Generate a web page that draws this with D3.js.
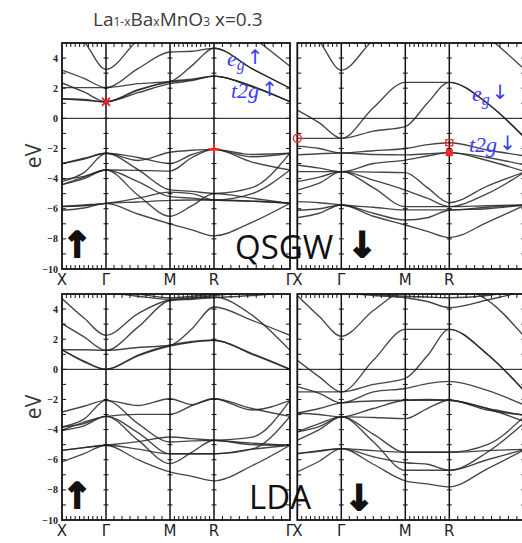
<!DOCTYPE html>
<html>
<head>
<meta charset="utf-8">
<script src="https://cdn.jsdelivr.net/npm/d3@7"></script>
<style>
  body { margin: 0; background: #fff; }
  svg { display: block; }
</style>
</head>
<body>
<svg id="chart" width="522" height="543"></svg>
<script>
// k path X-Γ-M-R-Γ, band energies (eV) read at each half segment
var kPath = [0, 0.5, 1, 1.5, 2, 2.5, 3, 3.5, 4]
var kLabels = ["X", "Γ", "M", "R", "Γ"]
var eTicks = [4, 2, 0, -2, -4, -6, -8, -10]

var qsgwUp = [
  [6.5, 5.1, 3.25, 5.2, 6.5, 7.0, 7.0, 5.4, 3.45],
  [3.2, 2.65, 2.04, 3.3, 4.4, 4.45, 4.65, 3.3, 2.0],
  [2.04, 2.04, 2.04, 2.3, 2.45, 3.5, 4.65, 3.3, 2.0],
  [2.35, 1.75, 1.1, 1.9, 2.4, 2.55, 2.8, 2.1, 1.1],
  [1.3, 1.25, 1.1, 1.85, 2.45, 2.6, 2.8, 2.1, 1.1],
  [1.3, 1.2, 1.1, 1.7, 2.3, 2.5, 2.8, 2.15, 1.1],
  [-3.0, -2.65, -2.32, -2.8, -2.25, -2.12, -2.06, -2.55, -2.32],
  [-4.2, -3.6, -2.32, -3.4, -4.75, -4.85, -4.98, -4.6, -2.32],
  [-3.0, -2.7, -2.32, -2.6, -3.0, -2.4, -2.06, -2.4, -2.32],
  [-4.05, -3.85, -3.43, -3.45, -3.5, -2.6, -2.06, -2.9, -3.43],
  [-4.4, -4.0, -3.43, -4.2, -5.2, -5.3, -5.42, -5.0, -3.43],
  [-4.4, -3.9, -3.43, -5.1, -6.5, -5.8, -5.0, -5.3, -5.64],
  [-5.85, -5.8, -5.64, -5.55, -5.45, -5.42, -5.42, -5.5, -5.64],
  [-5.85, -5.75, -5.64, -5.3, -4.9, -5.0, -5.42, -5.5, -5.64],
  [-6.1, -5.95, -5.64, -6.35, -7.0, -7.4, -7.8, -6.9, -5.64]
]

var qsgwDn = [
  [6.5, 5.1, 3.2, 5.2, 6.5, 7.0, 7.0, 5.4, 3.2],
  [0.55, -0.3, -1.33, 0.7, 2.39, 2.39, 2.39, 1.0, -1.33],
  [-1.33, -1.33, -1.33, -0.85, -0.55, 1.0, 2.39, 1.0, -1.33],
  [-1.84, -2.0, -2.3, -2.15, -2.0, -1.75, -1.62, -2.1, -2.5],
  [-2.43, -2.35, -2.3, -2.4, -2.43, -2.35, -2.28, -2.6, -3.1],
  [-3.1, -3.3, -3.54, -3.0, -2.77, -2.5, -2.28, -2.8, -3.54],
  [-3.54, -3.54, -3.54, -3.57, -3.6, -4.6, -5.6, -4.5, -3.54],
  [-4.2, -3.9, -3.54, -4.1, -4.76, -5.3, -5.86, -5.0, -3.54],
  [-4.76, -4.3, -3.54, -4.6, -5.86, -5.86, -5.86, -5.8, -5.75],
  [-5.53, -5.6, -5.75, -5.9, -6.08, -6.08, -6.08, -5.9, -5.75],
  [-6.1, -6.0, -5.75, -6.3, -6.75, -6.6, -6.1, -6.0, -5.75],
  [-6.6, -6.3, -5.75, -6.5, -7.08, -7.5, -7.92, -6.9, -5.75]
]

var ldaUp = [
  [4.7, 3.4, 2.26, 3.7, 4.6, 4.7, 4.8, 3.6, 1.26],
  [3.03, 2.15, 1.26, 2.8, 4.55, 4.65, 4.75, 4.9, 5.1],
  [1.3, 1.3, 1.26, 1.45, 1.6, 2.7, 4.14, 3.25, 2.26],
  [1.3, 0.5, 0.0, 0.9, 1.55, 1.8, 1.93, 1.0, 0.0],
  [1.3, 0.55, 0.0, 0.95, 1.6, 1.85, 1.93, 1.05, 0.0],
  [5.3, 5.2, 5.1, 4.85, 4.65, 4.75, 4.9, 5.1, 5.2],
  [5.5, 5.4, 5.3, 5.0, 4.75, 4.85, 5.0, 5.2, 5.3],
  [-2.83, -2.45, -2.06, -2.4, -1.95, -2.35, -1.95, -2.7, -2.06],
  [-3.83, -3.3, -2.06, -3.6, -4.82, -4.75, -4.71, -4.5, -2.06],
  [-4.05, -3.5, -3.12, -2.99, -2.99, -2.4, -1.95, -2.6, -3.12],
  [-3.83, -3.6, -3.12, -4.2, -5.6, -5.6, -5.6, -5.3, -3.12],
  [-4.05, -3.75, -3.12, -4.7, -6.26, -5.5, -4.71, -5.0, -5.04],
  [-5.38, -5.2, -5.04, -4.8, -4.49, -4.6, -4.71, -4.9, -5.04],
  [-5.38, -5.2, -5.04, -5.3, -5.6, -5.6, -5.6, -5.3, -5.04],
  [-6.15, -5.6, -5.04, -6.0, -6.81, -7.1, -7.4, -6.4, -5.04]
]

var ldaDn = [
  [4.9, 3.5, 2.2, 3.9, 5.3, 5.5, 5.5, 4.6, 2.1],
  [0.6, -0.5, -1.5, 0.6, 2.65, 2.65, 2.65, 1.0, -1.5],
  [-1.5, -1.5, -1.5, -1.0, -0.6, 0.9, 2.65, 1.0, -1.5],
  [5.5, 5.3, 5.1, 4.9, 4.75, 4.5, 4.1, 4.6, 5.2],
  [5.6, 5.5, 5.3, 5.0, 4.85, 4.8, 4.75, 4.9, 5.3],
  [-1.15, -1.6, -2.23, -1.5, -1.27, -0.95, -0.8, -1.4, -2.4],
  [-2.9, -2.6, -2.23, -2.1, -2.05, -2.05, -2.05, -2.6, -3.05],
  [-2.9, -3.0, -3.16, -2.6, -2.05, -2.0, -2.05, -2.6, -3.5],
  [-4.15, -3.6, -3.16, -3.2, -3.27, -2.6, -2.05, -2.7, -3.05],
  [-4.7, -4.0, -3.16, -4.3, -5.5, -5.5, -5.5, -5.0, -3.05],
  [-4.15, -3.8, -3.16, -4.8, -6.7, -6.7, -6.7, -5.5, -3.5],
  [-5.6, -5.4, -5.26, -5.4, -5.5, -5.5, -5.5, -5.4, -5.3],
  [-5.6, -5.45, -5.26, -5.8, -6.2, -6.3, -6.7, -6.0, -5.3],
  [-6.8, -6.1, -5.26, -6.3, -7.4, -7.6, -7.8, -6.6, -5.3]
]

// red markers on the QSGW panels: [panel, k, E, shape]
var markers = [
  [0, 1, 1.1, "x"],
  [0, 3, -2.06, "plus"],
  [1, 0, -1.33, "circle"],
  [1, 3, -1.62, "square"],
  [1, 3, -2.28, "filled"]
]

var svg = d3.select("#chart")
var W = 228, H = 226
var kOffsets = [0, 44, 108, 152, 228]
var kDivs = [10, 8, 10, 9]

var panels = [
  { bands: qsgwUp, x0: 62, y0: 43, left: true },
  { bands: qsgwDn, x0: 297.3, y0: 43, left: false },
  { bands: ldaUp, x0: 62, y0: 294, left: true },
  { bands: ldaDn, x0: 297.3, y0: 294, left: false }
]

panels.forEach(function (p, pi) {
  p.x = d3.scaleLinear().domain([0, 1, 2, 3, 4])
    .range(kOffsets.map(function (o) { return p.x0 + o }))
  p.y = d3.scaleLinear().domain([-10, 5]).range([p.y0 + H, p.y0])

  var g = svg.append("g")
  var clipId = "clip" + pi
  svg.append("clipPath").attr("id", clipId)
    .append("rect").attr("x", p.x0).attr("y", p.y0).attr("width", W).attr("height", H)

  // bands
  var line = d3.line()
    .x(function (d) { return p.x(d[0]) })
    .y(function (d) { return p.y(d[1]) })
    .curve(d3.curveMonotoneX)

  g.append("g").attr("clip-path", "url(#" + clipId + ")")
    .selectAll("path")
    .data(p.bands)
    .enter().append("path")
    .attr("d", function (b) { return line(kPath.map(function (k, i) { return [k, b[i]] })) })
    .attr("fill", "none")
    .attr("stroke", "#262626")
    .attr("stroke-width", 1.35)
    .attr("stroke-opacity", 0.85)

  // Fermi level
  g.append("line")
    .attr("x1", p.x0).attr("x2", p.x0 + W)
    .attr("y1", p.y(0)).attr("y2", p.y(0))
    .attr("stroke", "#111").attr("stroke-width", 1)

  // symmetry lines
  g.selectAll(".sym").data([1, 2, 3]).enter().append("line")
    .attr("x1", p.x).attr("x2", p.x)
    .attr("y1", p.y0).attr("y2", p.y0 + H)
    .attr("stroke", "#111").attr("stroke-width", 1.5)

  // energy ticks along edges and symmetry lines
  var eMinor = d3.range(-9, 5)
  ;[0, 1, 2, 3, 4].forEach(function (k) {
    var xx = p.x(k)
    var dl = k === 0 ? 0 : 2.5, dr = k === 4 ? 0 : 2.5
    if (k === 0) dr = 4
    if (k === 4) dl = 4
    g.selectAll(null).data(eMinor).enter().append("line")
      .attr("x1", xx - dl).attr("x2", xx + dr)
      .attr("y1", p.y).attr("y2", p.y)
      .attr("stroke", "#111").attr("stroke-width", 1)
  })

  // k ticks on top and bottom edges
  var kt = []
  kDivs.forEach(function (n, s) {
    for (var j = 1; j < n; j++) kt.push(s + j / n)
  })
  ;[p.y0, p.y0 + H].forEach(function (yy, t) {
    g.selectAll(null).data(kt).enter().append("line")
      .attr("x1", p.x).attr("x2", p.x)
      .attr("y1", yy).attr("y2", t === 0 ? yy + 4 : yy - 4)
      .attr("stroke", "#111").attr("stroke-width", 1)
  })

  // frame
  g.append("rect")
    .attr("x", p.x0).attr("y", p.y0).attr("width", W).attr("height", H)
    .attr("fill", "none").attr("stroke", "#111").attr("stroke-width", 1.8)

  // energy labels
  if (p.left) {
    g.selectAll(".elab").data(eTicks).enter().append("text")
      .attr("x", p.x0 - 4)
      .attr("y", p.y)
      .attr("dy", "0.35em")
      .attr("text-anchor", "end")
      .style("font-family", "Liberation Serif")
      .style("font-weight", "bold")
      .style("font-size", "10px")
      .attr("fill", "#222")
      .text(function (d) { return d < 0 ? "−" + (-d) : d })
  }

  // k labels
  g.selectAll(".klab").data(kLabels).enter().append("text")
    .attr("x", function (d, i) { return p.x(i) })
    .attr("y", p.y0 + H + 16)
    .attr("text-anchor", "middle")
    .style("font-family", "DejaVu Sans")
    .style("font-size", "15px")
    .attr("fill", "#1e1e2a")
    .text(function (d) { return d })
})

// red markers
markers.forEach(function (m) {
  var p = panels[m[0]]
  var cx = p.x(m[1]), cy = p.y(m[2])
  var red = "#ff2222"
  if (m[3] === "x") {
    svg.append("path")
      .attr("d", "M" + (cx - 4) + "," + (cy - 4) + "L" + (cx + 4) + "," + (cy + 4) +
        "M" + (cx - 4) + "," + (cy + 4) + "L" + (cx + 4) + "," + (cy - 4))
      .attr("stroke", red).attr("stroke-width", 1.8)
  } else if (m[3] === "plus") {
    svg.append("path")
      .attr("d", "M" + (cx - 6) + "," + cy + "L" + (cx + 6) + "," + cy +
        "M" + cx + "," + (cy - 5) + "L" + cx + "," + (cy + 5))
      .attr("stroke", red).attr("stroke-width", 2)
  } else if (m[3] === "circle") {
    svg.append("circle").attr("cx", cx).attr("cy", cy).attr("r", 4)
      .attr("fill", "none").attr("stroke", red).attr("stroke-width", 1.3)
  } else if (m[3] === "square") {
    svg.append("rect").attr("x", cx - 3.5).attr("y", cy - 3).attr("width", 7).attr("height", 6)
      .attr("fill", "none").attr("stroke", red).attr("stroke-width", 1.3)
  } else {
    svg.append("rect").attr("x", cx - 3.5).attr("y", cy - 3.5).attr("width", 7).attr("height", 7)
      .attr("fill", red)
  }
})

// title
var title = svg.append("text").attr("x", 93).attr("y", 26)
  .style("font-family", "Open Sans").style("font-size", "19px").attr("fill", "#3c3c3c")
title.append("tspan").text("La")
title.append("tspan").style("font-size", "12px").text("1-x")
title.append("tspan").text("Ba")
title.append("tspan").style("font-size", "12px").text("x")
title.append("tspan").text("MnO")
title.append("tspan").style("font-size", "12px").text("3")
title.append("tspan").text(" x=0.3")

// eV axis titles
;[0, 2].forEach(function (i) {
  var p = panels[i]
  svg.append("text")
    .attr("transform", "translate(41," + p.y(-2.5) + ") rotate(-90)")
    .attr("text-anchor", "middle")
    .style("font-family", "Open Sans").style("font-size", "21px")
    .attr("fill", "#333")
    .text("eV")
})

// method names
svg.append("text").attr("x", 235).attr("y", 259)
  .style("font-family", "Open Sans").style("font-size", "33px").attr("fill", "#111")
  .text("QSGW")
svg.append("text").attr("x", 249).attr("y", 509)
  .style("font-family", "Open Sans").style("font-size", "33px").attr("fill", "#111")
  .text("LDA")

// spin arrows
var arrows = [[77, 257, "↑"], [362, 257, "↓"], [77, 508, "↑"], [359, 510, "↓"]]
svg.selectAll(".arr").data(arrows).enter().append("text")
  .attr("x", function (d) { return d[0] })
  .attr("y", function (d) { return d[1] })
  .attr("text-anchor", "middle")
  .style("font-family", "DejaVu Sans").style("font-size", "35px").style("font-weight", "bold")
  .attr("fill", "#111").attr("stroke", "#111").attr("stroke-width", 2)
  .text(function (d) { return d[2] })

// orbital labels
function orbital(x, y, base, sub, arrow) {
  var t = svg.append("text").attr("x", x).attr("y", y)
    .style("font-family", "Liberation Serif").style("font-style", "italic")
    .style("font-size", "22px").attr("fill", "#3b3bf5")
  t.append("tspan").text(base)
  if (sub) t.append("tspan").attr("dy", 4).style("font-size", "16px").text(sub)
  t.append("tspan").attr("dx", 2).attr("dy", sub ? -6 : -2).style("font-style", "normal")
    .style("font-family", "DejaVu Sans").style("font-size", "20px").text(arrow)
}
orbital(227, 66, "e", "g", "↑")
orbital(231, 98, "t2g", null, "↑")
orbital(472, 101, "e", "g", "↓")
orbital(469, 152, "t2g", null, "↓")
</script>
</body>
</html>
